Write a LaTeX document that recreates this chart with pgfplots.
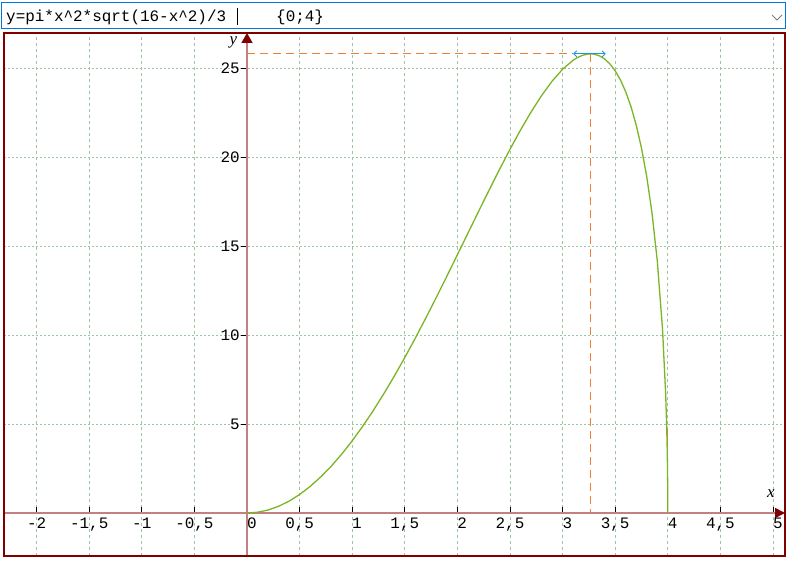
\documentclass[border=0pt]{standalone}
\usepackage{fontspec}
\setmainfont{Liberation Serif}
\newfontfamily\mono{Liberation Mono}
\usepackage{pgfplots}
\pgfplotsset{compat=1.18}
\usetikzlibrary{arrows.meta}

\definecolor{frameRed}{RGB}{128,0,0}
\definecolor{axisRed}{RGB}{196,128,128}
\definecolor{gridGreen}{RGB}{160,195,160}
\definecolor{curveGreen}{RGB}{122,182,36}
\definecolor{maxOrange}{RGB}{238,128,48}
\definecolor{maxBlue}{RGB}{30,150,225}
\definecolor{boxBlue}{RGB}{0,120,215}

\begin{document}
\begin{tikzpicture}
\path[use as bounding box, fill=white] (0bp,0bp) rectangle (791bp,563bp);

% formula input box
\draw[boxBlue, line width=1bp] (1.5bp,534bp) rectangle (785.5bp,560bp);
\node[anchor=base west, inner sep=0pt, font=\mono\fontsize{16}{18}\selectfont]
  at (6bp,541bp) {y=pi*x\textasciicircum 2*sqrt(16-x\textasciicircum 2)/3};
\node[anchor=base west, inner sep=0pt, font=\mono\fontsize{16}{18}\selectfont]
  at (276bp,541bp) {\{0;4\}};
\draw[black, line width=0.8bp] (237bp,538bp) -- (237bp,555bp);
\draw[gray, line width=0.9bp] (772bp,548bp) -- (777bp,543bp) -- (782bp,548bp);

\begin{axis}[
  at={(4bp,7bp)}, anchor=south west,
  width=781bp, height=523bp, scale only axis,
  xmin=-2.310, xmax=5.114, ymin=-2.416, ymax=26.97,
  axis lines=middle,
  axis line style={draw=axisRed, line width=1.6bp},
  x axis line style={-{Triangle[color=frameRed,length=10bp,width=10bp]}},
  y axis line style={-{Triangle[color=frameRed,length=10bp,width=11bp]}},
  hide obscured x ticks=false,
  xtick={-2,-1.5,-1,-0.5,0,0.5,1,1.5,2,2.5,3,3.5,4,4.5,5},
  xticklabels={{-2},{-1,5},{-1},{-0,5},{\phantom{0}0},{0,5},{\phantom{0}1},{1,5},{\phantom{0}2},{2,5},{\phantom{0}3},{3,5},{\phantom{0}4},{4,5},{\phantom{0}5}},
  ytick={5,10,15,20,25},
  yticklabels={5,10,15,20,25},
  tick style={black, line width=0.9bp},
  major tick length=6bp,
  xtick align=inside,
  ytick align=outside,
  ticklabel style={font=\mono\fontsize{16}{18}\selectfont},
  xticklabel style={anchor=north, inner sep=0pt, yshift=-5bp},
  yticklabel style={anchor=east, inner sep=0pt, xshift=-1bp},
  grid=major,
  x grid style={gridGreen, line width=0.8bp, dash pattern=on 3bp off 3bp},
  y grid style={gridGreen, line width=0.8bp, dash pattern=on 2bp off 2bp},
  clip=false,
]
% max markers
\addplot[maxOrange, line width=1.2bp, dash pattern=on 8bp off 5bp] coordinates {(0,25.80) (3.10,25.80)};
\addplot[maxOrange, line width=1.1bp, dash pattern=on 8bp off 5bp] coordinates {(3.266,25.80) (3.266,0)};
\addplot[maxOrange, line width=0.8bp] coordinates {(4,0) (4,4.7)};
% y = pi x^2 sqrt(16-x^2)/3 on [0;4]
\addplot[curveGreen, line width=1.3bp] coordinates {
(0,0) (0.1,0.0419) (0.2,0.1673) (0.3,0.3759) (0.4,0.6669) (0.5,1.0390)
(0.6,1.4909) (0.7,2.0208) (0.8,2.6267) (0.9,3.3059) (1.0,4.0558)
(1.1,4.8730) (1.2,5.7540) (1.3,6.6948) (1.4,7.6908) (1.5,8.7370)
(1.6,9.8281) (1.7,10.9579) (1.8,12.1199) (1.9,13.3068) (2.0,14.5104)
(2.1,15.7221) (2.2,16.9319) (2.3,18.1292) (2.4,19.3020) (2.5,20.4367)
(2.6,21.5185) (2.7,22.5302) (2.8,23.4525) (2.9,24.2631) (3.0,24.9356)
(3.1,25.4391) (3.15,25.6161) (3.2,25.7359) (3.25,25.7926) (3.266,25.7963)
(3.3,25.7791) (3.35,25.6873) (3.4,25.5081) (3.45,25.2306) (3.5,24.8416)
(3.55,24.3257) (3.6,23.6631) (3.65,22.8286) (3.7,21.7891) (3.75,20.4981)
(3.8,18.8868) (3.85,16.8435) (3.9,14.1570) (3.95,10.3014) (3.98,6.6269)
(3.99,4.7125) (3.995,3.3417) (3.999,1.4978) (4,0)
};
\addplot[maxBlue, line width=0.9bp, {Straight Barb[length=3bp,width=6bp]}-{Straight Barb[length=3bp,width=6bp]}] coordinates {(3.10,25.80) (3.41,25.80)};
\node[font=\itshape\fontsize{17}{19}\selectfont, inner sep=0pt] at (axis cs:4.98,1.07) {x};
\node[font=\itshape\fontsize{17}{19}\selectfont, inner sep=0pt] at (axis cs:-0.13,26.45) {y};
\end{axis}

\draw[frameRed, line width=2.2bp] (4bp,7bp) rectangle (785bp,530bp);
\end{tikzpicture}
\end{document}
